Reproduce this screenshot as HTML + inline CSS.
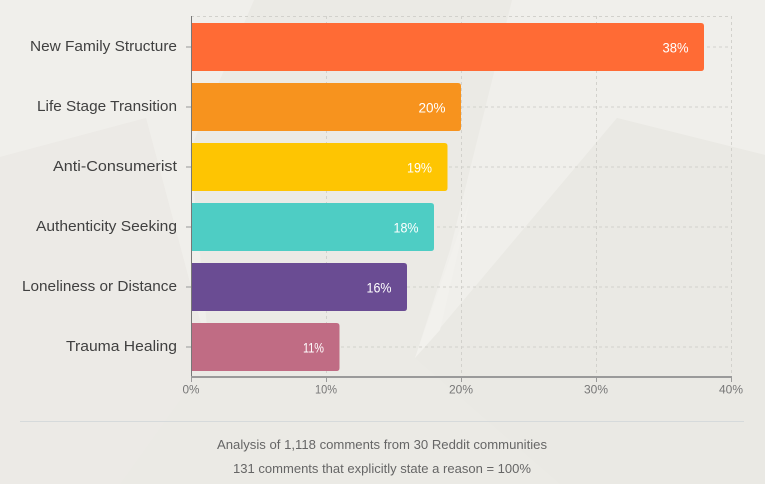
<!DOCTYPE html>
<html>
<head>
<meta charset="utf-8">
<style>
  html, body { margin: 0; padding: 0; background: #eeede8; }
  svg { display: block; }
  text { font-family: "Liberation Sans", "DejaVu Sans", sans-serif; }
</style>
</head>
<body>
<svg width="765" height="484" viewBox="0 0 765 484" xmlns="http://www.w3.org/2000/svg">
  <!-- background -->
  <rect x="0" y="0" width="765" height="484" fill="#ebeae5"/>
  <polygon points="0,0 254,0 190,150 210,358 146,118 0,157" fill="#f0efeb"/>
  <polygon points="512,0 765,0 765,155 617,118 415,358 450,250" fill="#f0efeb"/>
  <polygon points="0,157 146,118 210,358 120,484 0,484" fill="#eceae6"/>
  <polygon points="617,118 765,155 765,484 560,484 415,358" fill="#eae9e4"/>
  <polygon points="415,358 470,200 440,330" fill="#f2f1ed"/>

  <!-- gridlines -->
  <g stroke="#d2d1cc" stroke-width="1" stroke-dasharray="3,3" fill="none">
    <line x1="191" y1="16.5" x2="731" y2="16.5"/>
    <line x1="191" y1="47" x2="731" y2="47"/>
    <line x1="191" y1="107" x2="731" y2="107"/>
    <line x1="191" y1="167" x2="731" y2="167"/>
    <line x1="191" y1="227" x2="731" y2="227"/>
    <line x1="191" y1="287" x2="731" y2="287"/>
    <line x1="191" y1="347" x2="731" y2="347"/>
    <line x1="326.5" y1="16" x2="326.5" y2="377"/>
    <line x1="461.5" y1="16" x2="461.5" y2="377"/>
    <line x1="596.5" y1="16" x2="596.5" y2="377"/>
    <line x1="731.5" y1="16" x2="731.5" y2="377"/>
  </g>

  <!-- bars -->
  <path d="M191,23 H701 Q704,23 704,26 V68 Q704,71 701,71 H191 Z" fill="#ff6b35"/>
  <path d="M191,83 H458 Q461,83 461,86 V128 Q461,131 458,131 H191 Z" fill="#f7931e"/>
  <path d="M191,143 H444.5 Q447.5,143 447.5,146 V188 Q447.5,191 444.5,191 H191 Z" fill="#fec502"/>
  <path d="M191,203 H431 Q434,203 434,206 V248 Q434,251 431,251 H191 Z" fill="#4ecdc4"/>
  <path d="M191,263 H404 Q407,263 407,266 V308 Q407,311 404,311 H191 Z" fill="#6a4c93"/>
  <path d="M191,323 H336.5 Q339.5,323 339.5,326 V368 Q339.5,371 336.5,371 H191 Z" fill="#c06c84"/>

  <!-- value labels -->
  <g fill="#ffffff" font-size="14" text-anchor="end">
    <text x="688.5" y="52.5" textLength="26" lengthAdjust="spacingAndGlyphs">38%</text>
    <text x="445.5" y="112.5" textLength="27" lengthAdjust="spacingAndGlyphs">20%</text>
    <text x="432" y="172.5" textLength="25" lengthAdjust="spacingAndGlyphs">19%</text>
    <text x="418.5" y="232.5" textLength="25" lengthAdjust="spacingAndGlyphs">18%</text>
    <text x="391.5" y="292.5" textLength="25" lengthAdjust="spacingAndGlyphs">16%</text>
    <text x="324" y="352.5" textLength="21" lengthAdjust="spacingAndGlyphs">11%</text>
  </g>

  <!-- y axis -->
  <line x1="191.5" y1="16" x2="191.5" y2="377" stroke="#777" stroke-width="1"/>
  <g stroke="#999" stroke-width="1">
    <line x1="186" y1="47" x2="191" y2="47"/>
    <line x1="186" y1="107" x2="191" y2="107"/>
    <line x1="186" y1="167" x2="191" y2="167"/>
    <line x1="186" y1="227" x2="191" y2="227"/>
    <line x1="186" y1="287" x2="191" y2="287"/>
    <line x1="186" y1="347" x2="191" y2="347"/>
  </g>

  <!-- category labels -->
  <g fill="#404040" font-size="15" text-anchor="end">
    <text x="177" y="51" textLength="147" lengthAdjust="spacingAndGlyphs">New Family Structure</text>
    <text x="177" y="111" textLength="140" lengthAdjust="spacingAndGlyphs">Life Stage Transition</text>
    <text x="177" y="171" textLength="124" lengthAdjust="spacingAndGlyphs">Anti-Consumerist</text>
    <text x="177" y="231" textLength="141" lengthAdjust="spacingAndGlyphs">Authenticity Seeking</text>
    <text x="177" y="291" textLength="155" lengthAdjust="spacingAndGlyphs">Loneliness or Distance</text>
    <text x="177" y="351" textLength="111" lengthAdjust="spacingAndGlyphs">Trauma Healing</text>
  </g>

  <!-- x axis -->
  <line x1="191" y1="377" x2="732" y2="377" stroke="#9a9a9a" stroke-width="2"/>
  <g stroke="#9a9a9a" stroke-width="1">
    <line x1="191.5" y1="377" x2="191.5" y2="382"/>
    <line x1="326.5" y1="377" x2="326.5" y2="382"/>
    <line x1="461.5" y1="377" x2="461.5" y2="382"/>
    <line x1="596.5" y1="377" x2="596.5" y2="382"/>
    <line x1="731.5" y1="377" x2="731.5" y2="382"/>
  </g>
  <g fill="#777" font-size="12" text-anchor="middle">
    <text x="191" y="393.5" textLength="17" lengthAdjust="spacingAndGlyphs">0%</text>
    <text x="326" y="393.5" textLength="22" lengthAdjust="spacingAndGlyphs">10%</text>
    <text x="461" y="393.5" textLength="24" lengthAdjust="spacingAndGlyphs">20%</text>
    <text x="596" y="393.5" textLength="24" lengthAdjust="spacingAndGlyphs">30%</text>
    <text x="731" y="393.5" textLength="24" lengthAdjust="spacingAndGlyphs">40%</text>
  </g>

  <!-- separator -->
  <line x1="20" y1="421.5" x2="744" y2="421.5" stroke="#d6dadb" stroke-width="1"/>

  <!-- footer -->
  <g fill="#666" font-size="12.5" text-anchor="middle">
    <text x="382" y="449" textLength="330" lengthAdjust="spacingAndGlyphs">Analysis of 1,118 comments from 30 Reddit communities</text>
    <text x="382" y="473" textLength="298" lengthAdjust="spacingAndGlyphs">131 comments that explicitly state a reason = 100%</text>
  </g>
</svg>
</body>
</html>
